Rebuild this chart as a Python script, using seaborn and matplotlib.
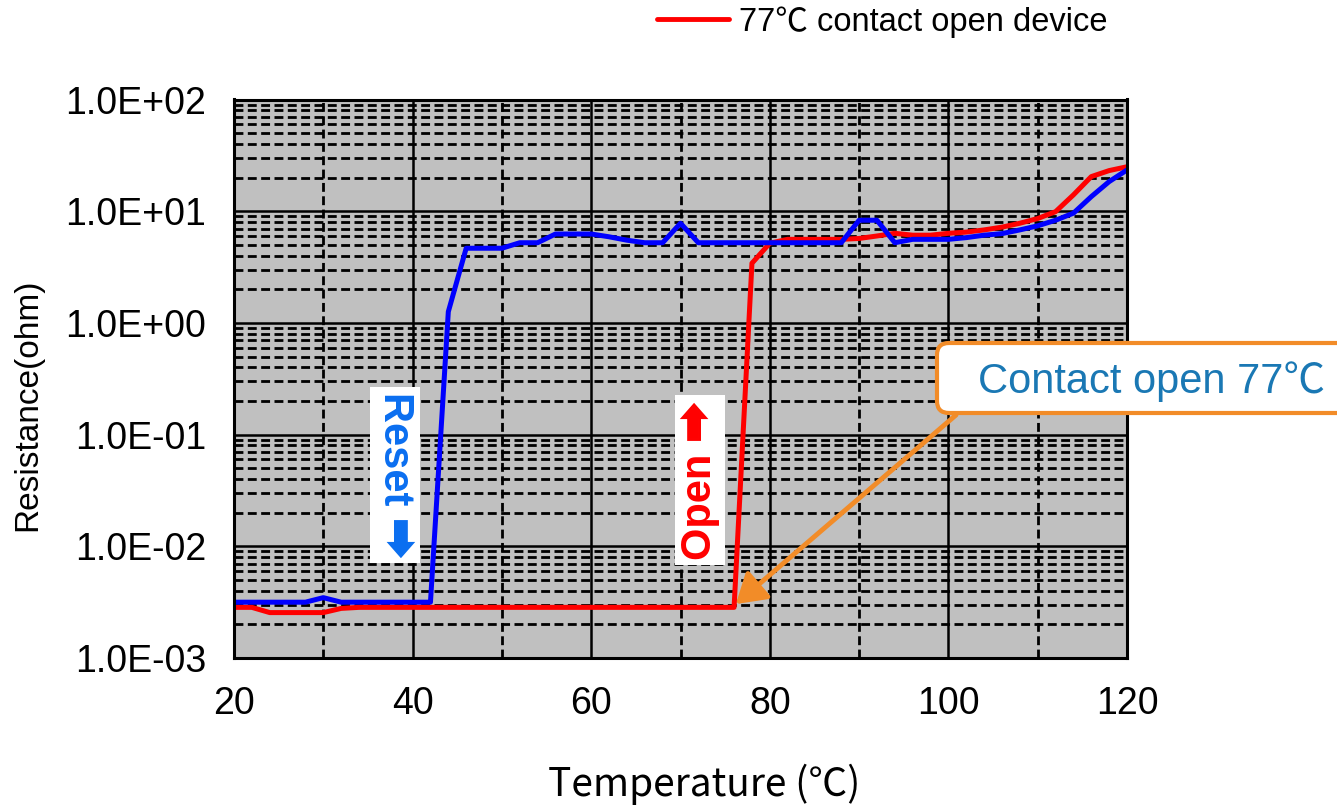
import matplotlib
matplotlib.use("Agg")
import matplotlib.pyplot as plt
import numpy as np
import pandas as pd
import seaborn as sns
from matplotlib.ticker import FixedLocator, LogLocator, FuncFormatter, NullFormatter
from matplotlib.lines import Line2D
from matplotlib.patches import FancyBboxPatch

# ---------------- data ----------------
temperature = [20, 22, 24, 26, 28, 30, 32, 34, 36, 38, 40, 42, 44, 46, 48, 50,
               52, 54, 56, 58, 60, 62, 64, 66, 68, 70, 72, 74, 76, 78, 80, 82,
               84, 86, 88, 90, 92, 94, 96, 98, 100, 102, 104, 106, 108, 110,
               112, 114, 116, 118, 120]

open_device = [0.00284, 0.00284, 0.00255, 0.00255, 0.00255, 0.00255, 0.00278,
               0.00284, 0.00284, 0.00284, 0.00284, 0.00284, 0.00284, 0.00284,
               0.00284, 0.00284, 0.00284, 0.00284, 0.00284, 0.00284, 0.00284,
               0.00284, 0.00284, 0.00284, 0.00284, 0.00284, 0.00284, 0.00284,
               0.00284, 3.42, 5.17, 5.6, 5.6, 5.6, 5.6, 5.7, 6.0, 6.34, 6.1,
               6.1, 6.34, 6.5, 6.8, 7.2, 7.8, 8.6, 9.9, 14.0, 20.4, 23.1, 25.0]

reset_device = [0.00316, 0.00316, 0.00316, 0.00316, 0.00316, 0.00347, 0.00316,
                0.00316, 0.00316, 0.00316, 0.00316, 0.00316, 1.26, 4.66, 4.66,
                4.66, 5.22, 5.22, 6.25, 6.25, 6.25, 5.9, 5.5, 5.22, 5.22, 7.8,
                5.22, 5.22, 5.22, 5.22, 5.22, 5.22, 5.22, 5.22, 5.22, 8.3, 8.3,
                5.22, 5.6, 5.6, 5.6, 5.8, 6.1, 6.3, 6.8, 7.4, 8.3, 9.6, 13.5,
                18.4, 23.4]

series_names = ["77℃ contact open device", "Reset device"]
x_major_ticks = [20, 40, 60, 80, 100, 120]
x_minor_ticks = [30, 50, 70, 90, 110]
y_ticks = [1e-3, 1e-2, 1e-1, 1e0, 1e1, 1e2]

df = pd.DataFrame({
    "Temperature": temperature * 2,
    "Resistance": open_device + reset_device,
    "Series": [series_names[0]] * len(temperature) + [series_names[1]] * len(temperature),
})

# ---------------- style ----------------
sns.set_theme(style="white")
plt.rcParams["font.family"] = ["Liberation Sans", "Noto Sans CJK JP", "DejaVu Sans"]
plt.rcParams["text.color"] = "black"

W, H = 1337, 810
fig = plt.figure(figsize=(W / 100, H / 100), dpi=100)
ax = fig.add_axes([234 / W, 152 / H, 893 / W, 558.5 / H])
ax.set_facecolor("#C0C0C0")

sns.lineplot(data=df, x="Temperature", y="Resistance", hue="Series",
             hue_order=series_names,
             palette={series_names[0]: "#FF0000", series_names[1]: "#0000FF"},
             linewidth=3.6, legend=False, estimator=None, sort=False, ax=ax)

ax.set_yscale("log")
ax.set_xlim(20, 120)
ax.set_ylim(1e-3, 1e2)

ax.xaxis.set_major_locator(FixedLocator(x_major_ticks))
ax.xaxis.set_minor_locator(FixedLocator(x_minor_ticks))
ax.yaxis.set_major_locator(FixedLocator(y_ticks))
ax.yaxis.set_minor_locator(LogLocator(base=10, subs=np.arange(2, 10)))
ax.yaxis.set_major_formatter(FuncFormatter(lambda v, p: f"{v:.1E}"))
ax.yaxis.set_minor_formatter(NullFormatter())

ax.grid(which="major", axis="both", color="black", linewidth=1.8, linestyle="-")
ax.grid(which="minor", axis="both", color="black", linewidth=2.0, linestyle=(0, (3.2, 1.6)))
ax.set_axisbelow(True)

ax.tick_params(axis="both", which="both", length=0, labelsize=27, colors="black")
ax.tick_params(axis="y", pad=20)
ax.tick_params(axis="x", pad=20)
for s in ax.spines.values():
    s.set_color("black")
    s.set_linewidth(2.2)

ax.set_ylabel("Resistance(ohm)", fontsize=24, color="black")
ax.yaxis.set_label_coords(-0.214, 0.453)
ax.set_xlabel("Temperature (℃)", fontsize=28, color="black",
              family=["Noto Sans CJK JP", "DejaVu Sans"])
ax.xaxis.set_label_coords(0.527, -0.19)

# ---------------- annotations ----------------
ax.text(0.1803, 0.3277, "Reset ➡", transform=ax.transAxes, rotation=-90,
        ha="center", va="center", color="#0A6EF0", fontsize=30, fontweight="bold",
        bbox=dict(boxstyle="square,pad=0.12", fc="white", ec="none"), zorder=5)
ax.text(0.5218, 0.3187, "Open ➡", transform=ax.transAxes, rotation=90,
        ha="center", va="center", color="#FF0000", fontsize=30, fontweight="bold",
        bbox=dict(boxstyle="square,pad=0.12", fc="white", ec="none"), zorder=5)

orange = "#F28C28"
ax.annotate("", xy=(76.2, 0.00304), xycoords="data",
            xytext=(956, H - 415), textcoords="figure pixels",
            arrowprops=dict(arrowstyle="-|>,head_length=0.8,head_width=0.5",
                            color=orange, lw=3.5, mutation_scale=22,
                            shrinkA=0, shrinkB=0),
            annotation_clip=False, zorder=6)

box = FancyBboxPatch((937 / 100, (H - 413) / 100), 4.8, 0.70,
                     boxstyle="round,pad=0,rounding_size=0.12",
                     transform=fig.dpi_scale_trans, fc="white", ec=orange,
                     lw=3, zorder=2)
fig.add_artist(box)
fig.text(978 / W, 1 - 393 / H, "Contact open 77℃", color="#1A78B4",
         fontsize=30, ha="left", va="baseline", zorder=3)

# legend (only the red entry is visible in the reference)
leg = fig.legend(handles=[Line2D([0], [0], color="#FF0000", lw=3.5)],
                 labels=[series_names[0]], loc="center left",
                 bbox_to_anchor=(657 / W, 1 - 22 / H), bbox_transform=fig.transFigure,
                 frameon=False, fontsize=23.5, handlelength=2.2, handletextpad=0.3,
                 borderpad=0, borderaxespad=0)
for t in leg.get_texts():
    t.set_color("black")

fig.savefig("out.png", dpi=100)
